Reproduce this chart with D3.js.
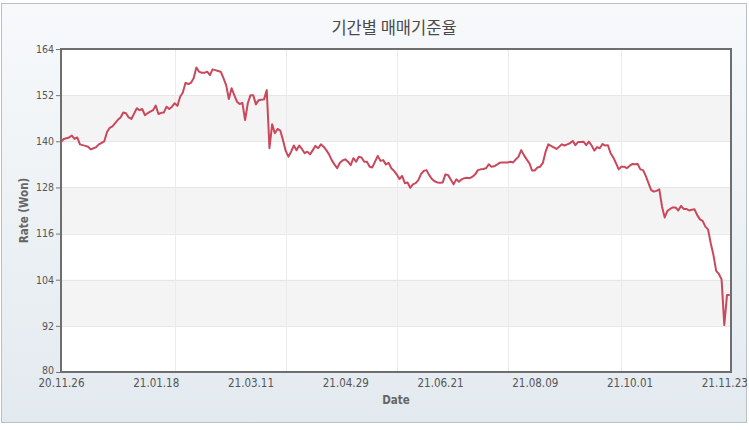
<!DOCTYPE html>
<html>
<head>
<meta charset="utf-8">
<script src="https://cdn.jsdelivr.net/npm/d3@7"></script>
<style>
  html, body { margin: 0; padding: 0; background: #ffffff; }
  svg { display: block; }
</style>
</head>
<body>
<div id="chart"></div>
<script>
// ---------- data ----------
const chartTitle = "기간별 매매기준율";
const yTitle = "Rate (Won)";
const xTitle = "Date";

const rates = [
  139.8,140.6,140.8,141.0,141.5,140.6,141.0,139.2,139.0,138.8,
  138.6,137.9,138.2,138.5,139.2,139.6,140.0,142.4,143.5,143.9,
  144.7,145.6,146.2,147.5,147.3,146.2,145.8,147.2,148.6,148.1,
  148.4,146.8,147.3,147.7,148.1,149.3,147.1,147.4,147.5,149.0,
  148.4,149.0,149.9,149.2,151.6,152.7,155.2,154.9,155.2,156.4,
  159.2,158.1,157.8,157.8,158.1,157.2,158.7,158.5,158.3,158.1,
  156.4,154.6,151.0,153.8,152.0,150.3,149.7,150.0,145.5,149.9,
  152.0,152.0,149.6,150.7,150.8,150.9,153.3,138.2,144.4,142.1,
  143.2,142.8,140.3,137.5,136.0,137.3,138.9,137.7,138.9,138.0,
  136.9,137.3,136.6,137.7,138.8,138.2,139.2,138.6,137.7,136.6,
  135.1,134.0,133.0,134.4,135.0,135.3,134.7,133.8,135.6,134.7,
  136.0,135.8,134.7,134.7,133.4,133.2,134.7,136.2,134.9,135.1,
  134.0,134.4,133.0,132.3,131.4,130.2,131.0,129.1,129.3,127.9,
  128.8,129.1,129.9,131.5,132.3,132.5,131.2,130.2,129.6,129.3,
  129.2,129.3,131.4,131.2,130.0,128.8,130.1,129.5,130.1,130.4,
  130.5,130.4,130.8,131.4,132.5,132.7,132.8,133.0,134.0,133.4,
  133.5,133.9,134.4,134.5,134.5,134.5,134.7,134.5,135.3,136.0,
  137.7,136.4,135.3,134.3,132.4,132.4,133.2,133.4,134.4,137.3,
  139.2,138.8,138.4,138.0,138.6,139.2,138.9,139.2,139.5,140.1,
  139.0,139.8,139.8,139.9,139.0,139.9,138.9,137.6,138.5,138.2,
  139.3,138.9,139.0,136.9,135.8,134.3,132.7,133.4,133.4,133.0,
  133.6,134.1,134.0,134.1,132.7,132.5,131.0,129.1,127.3,126.9,
  127.1,127.5,123.0,120.2,121.9,122.4,122.8,122.8,122.0,123.2,
  122.4,122.4,122.0,122.2,122.3,120.8,119.7,119.3,117.8,117.1,
  113.5,110.4,106.3,105.5,104.1,92.2,100.0,100.0
];

const xTickLabels = ["20.11.26","21.01.18","21.03.11","21.04.29","21.06.21","21.08.09","21.10.01","21.11.23"];
const xTickIndex  = [0, 35, 70, 105, 140, 175, 210, 245];
const xGridIndex  = [42, 83, 124, 165, 207];
const yTicks      = [80, 92, 104, 116, 128, 140, 152, 164];

// ---------- layout ----------
const W = 749, H = 430;
const plot = { left: 61, top: 49, right: 731, bottom: 372 };
const labelFont = "'DejaVu Sans Condensed', 'DejaVu Sans', sans-serif";

const svg = d3.select("#chart").append("svg")
  .attr("width", W).attr("height", H);

const defs = svg.append("defs");
const grad = defs.append("linearGradient")
  .attr("id", "bg").attr("x1", 0).attr("y1", 0).attr("x2", 0).attr("y2", 1);
grad.append("stop").attr("offset", "0%").attr("stop-color", "#f7f9fb");
grad.append("stop").attr("offset", "100%").attr("stop-color", "#e3eaef");

// outer frame
svg.append("rect")
  .attr("x", 1.5).attr("y", 3.5).attr("width", 745).attr("height", 419)
  .attr("fill", "url(#bg)").attr("stroke", "#b9c0c6").attr("stroke-width", 1);

// scales
const x = d3.scaleLinear().domain([0, rates.length - 1]).range([plot.left, 729.7]);
const y = d3.scaleLinear().domain([80, 164]).range([plot.bottom, plot.top]);

// plot background
svg.append("rect")
  .attr("x", plot.left).attr("y", plot.top)
  .attr("width", plot.right - plot.left).attr("height", plot.bottom - plot.top)
  .attr("fill", "#ffffff");

// alternating bands
const bands = [[140, 152], [116, 128], [92, 104]];
svg.append("g").selectAll("rect").data(bands).join("rect")
  .attr("x", plot.left).attr("width", plot.right - plot.left)
  .attr("y", d => y(d[1])).attr("height", d => y(d[0]) - y(d[1]))
  .attr("fill", "#f4f4f4");

// horizontal grid lines
svg.append("g").selectAll("line").data(yTicks.slice(1, -1)).join("line")
  .attr("x1", plot.left).attr("x2", plot.right)
  .attr("y1", d => Math.round(y(d)) + 0.5).attr("y2", d => Math.round(y(d)) + 0.5)
  .attr("stroke", "#e6e6e6").attr("stroke-width", 1);

// vertical grid lines
svg.append("g").selectAll("line").data(xGridIndex).join("line")
  .attr("x1", d => Math.round(x(d)) + 0.5).attr("x2", d => Math.round(x(d)) + 0.5)
  .attr("y1", plot.top).attr("y2", plot.bottom)
  .attr("stroke", "#ebebeb").attr("stroke-width", 1);

// line
const line = d3.line().x((d, i) => x(i)).y(d => y(d));
svg.append("path")
  .datum(rates)
  .attr("d", line)
  .attr("fill", "none")
  .attr("stroke", "#c9485b")
  .attr("stroke-width", 2)
  .attr("stroke-linejoin", "round");

// plot frame
svg.append("rect")
  .attr("x", plot.left).attr("y", plot.top)
  .attr("width", plot.right - plot.left).attr("height", plot.bottom - plot.top)
  .attr("fill", "none").attr("stroke", "#6e6e6e").attr("stroke-width", 2);

// y axis
const yAxis = svg.append("g")
  .attr("transform", `translate(${plot.left - 1},0)`)
  .call(d3.axisLeft(y).tickValues(yTicks).tickSize(4).tickPadding(2).tickFormat(d3.format("d")));
yAxis.select(".domain").remove();
yAxis.selectAll(".tick line").attr("stroke", "#777");
yAxis.selectAll(".tick text")
  .attr("fill", "#555").style("font-family", labelFont).style("font-size", "10.5px")
  .attr("dy", d => d === 80 ? "0.1em" : "0.32em");

// x axis
const xAxis = svg.append("g")
  .attr("transform", `translate(0,${plot.bottom})`)
  .call(d3.axisBottom(x).tickValues(xTickIndex).tickSize(0).tickPadding(7)
    .tickFormat((d, i) => xTickLabels[i]));
xAxis.select(".domain").remove();
xAxis.selectAll(".tick text")
  .attr("fill", "#555").style("font-family", labelFont).style("font-size", "11.5px");

// titles
svg.append("text")
  .attr("x", 394).attr("y", 34)
  .attr("text-anchor", "middle")
  .style("font-family", "'Noto Sans CJK KR', sans-serif")
  .style("font-size", "16.5px")
  .attr("fill", "#4a4a4a")
  .text(chartTitle);

svg.append("text")
  .attr("transform", `translate(28,${(plot.top + plot.bottom) / 2}) rotate(-90)`)
  .attr("text-anchor", "middle")
  .style("font-family", labelFont)
  .style("font-size", "11.5px")
  .style("font-weight", "bold")
  .attr("fill", "#666")
  .text(yTitle);

svg.append("text")
  .attr("x", 396).attr("y", 404)
  .attr("text-anchor", "middle")
  .style("font-family", labelFont)
  .style("font-size", "11.5px")
  .style("font-weight", "bold")
  .attr("fill", "#666")
  .text(xTitle);
</script>
</body>
</html>
